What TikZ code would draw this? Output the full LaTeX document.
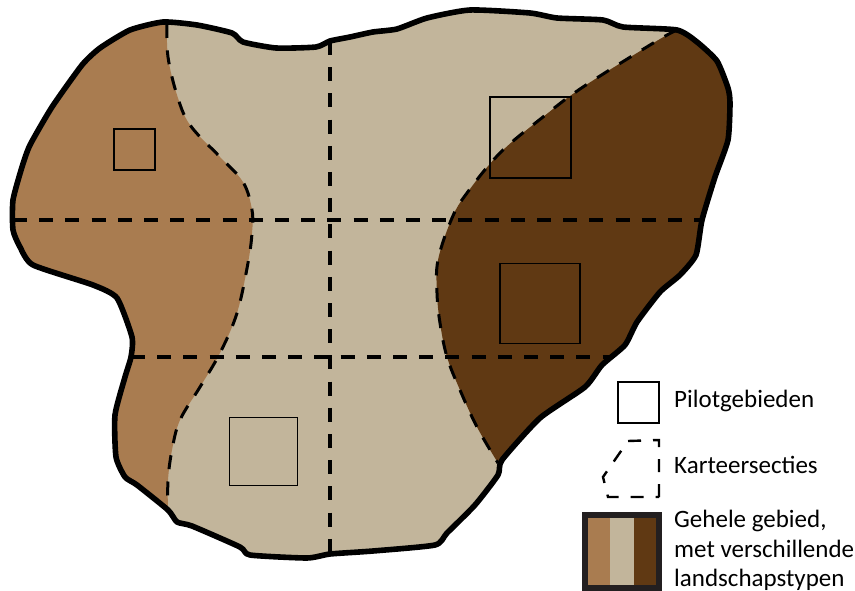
\documentclass[tikz,border=0pt]{standalone}
\usepackage{fontspec}
\setmainfont{Carlito}
\definecolor{lichtbruin}{HTML}{A97C50}
\definecolor{beige}{HTML}{C2B59B}
\definecolor{donkerbruin}{HTML}{603913}
\definecolor{kader}{HTML}{231F20}
\def\gebiedrand{(163,22) (197,25) (232,33) (243,42) (276,48) (316,47) (330,41) (350,37) (373,32) (397,29)
  (427,18) (470,10) (530,13) (557,18) (603,20) (623,27) (677,30) (697,42) (717,61) (728,88)
  (730,103) (728,140) (715,177) (702,220) (696,255) (680,275) (660,292) (637,322) (625,345) (602,365)
  (585,387) (540,418) (502,460) (498,475) (475,505) (447,533) (435,545) (373,551) (330,554) (307,558)
  (250,555) (240,547) (192,526) (177,522) (168,510) (137,485) (125,477) (116,457) (115,415) (125,377)
  (131,357) (132,337) (117,298) (93,285) (33,265) (20,247) (13,230) (13,200) (22,167) (30,145)
  (52,107) (82,65) (100,48) (130,30)}
\def\grenslinks{(167,24) (168,57) (177,95) (190,125) (220,157) (243,182) (252,210) (252,233) (248,263)
  (237,313) (220,353) (200,387) (180,420) (172,450) (168,480) (168,510)}
\def\grensrechts{(677,30) (655,42) (583,87) (543,117) (500,153) (467,193) (452,218) (438,260) (437,293)
  (440,323) (447,357) (460,390) (477,427) (498,463)}
\begin{document}
\begin{tikzpicture}[
  x=1pt, y=-1pt,
  rand/.style={line width=5.6pt, line join=round},
  sectie/.style={line width=3.4pt, dash pattern=on 14pt off 12.2pt},
  grens/.style={line width=3pt, dash pattern=on 14pt off 12.4pt},
  pilot/.style={draw, line width=1.8pt, minimum width=#1, minimum height=#1, inner sep=0pt},
  legenda/.style={anchor=base west, inner sep=0pt, font=\fontsize{25}{30}\selectfont}
]
  \useasboundingbox (0,0) rectangle (855,591);
  % Gebied met landschapstypen
  \fill[beige] plot[smooth cycle, tension=0.35] coordinates {\gebiedrand};
  \begin{scope}
    \clip plot[smooth cycle, tension=0.35] coordinates {\gebiedrand};
    \fill[lichtbruin] plot[smooth, tension=0.6] coordinates {\grenslinks} -- (0,591) -- (0,0) -- (167,0) -- cycle;
    \fill[donkerbruin] plot[smooth, tension=0.6] coordinates {\grensrechts} -- (855,591) -- (855,0) -- cycle;
  \end{scope}
  % Grenzen
  \draw[grens] plot[smooth, tension=0.6] coordinates {\grenslinks};
  \draw[grens] plot[smooth, tension=0.6] coordinates {\grensrechts};
  % Karteersecties
  \coordinate (h1a) at (13,220);
  \coordinate (h1b) at (702,220);
  \coordinate (h2a) at (131,357);
  \coordinate (h2b) at (612,357);
  \coordinate (v1a) at (330,41);
  \coordinate (v1b) at (330,554);
  \draw[sectie] (h1a) -- (h1b);
  \draw[sectie] (h2a) -- (h2b);
  \draw[sectie] (v1a) -- (v1b);
  \draw[rand] plot[smooth cycle, tension=0.35] coordinates {\gebiedrand};
  % Pilotgebieden
  \node[pilot=41pt] (p1) at (134.5,149.5) {};
  \node[pilot=81pt] (p2) at (530.5,137.5) {};
  \node[pilot=80pt] (p3) at (540,303.5) {};
  \node[pilot=68pt] (p4) at (263.5,451.5) {};
  % Legenda
  \node[pilot=41pt, line width=2pt] (l1) at (638.5,402) {};
  \node[legenda] (t1) at (674,407) {Pilotgebieden};
  \coordinate (d1) at (659,497);
  \coordinate (d2) at (659,440);
  \coordinate (d3) at (628,441);
  \coordinate (d4) at (603,477);
  \coordinate (d5) at (608,497);
  \draw[line width=2.4pt, dash pattern=on 13pt off 12pt] (d1) -- (d2) -- (d3) -- (d4) -- (d5) -- cycle;
  \node[legenda] (t2) at (674,473) {Karteersecties};
  \fill[lichtbruin] (588,518) rectangle (610,585);
  \fill[beige] (610,518) rectangle (633.5,585);
  \fill[donkerbruin] (633.5,518) rectangle (656,585);
  \draw[line width=6pt, kader] (585,515) rectangle (659,588);
  \node[legenda] (t3) at (674,527) {Gehele gebied,};
  \node[legenda] (t4) at (674,557) {met verschillende};
  \node[legenda] (t5) at (674,586) {landschapstypen};
\end{tikzpicture}
\end{document}
